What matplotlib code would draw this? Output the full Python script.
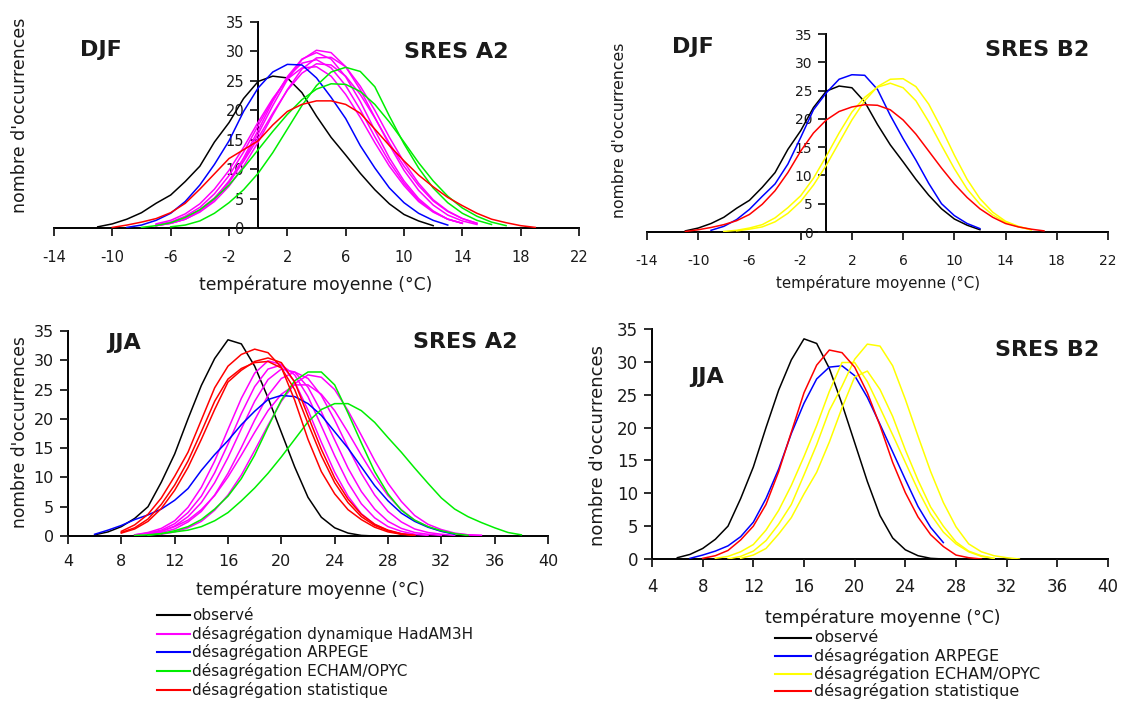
import numpy as np
import matplotlib
matplotlib.use('Agg')
import matplotlib.pyplot as plt
from matplotlib.lines import Line2D

W, H = 1129, 701

# each curve: (first temperature, counts per 1 degC step)
# --- DJF (winter) ---
djf_obs = (-11, [0.2, 0.7, 1.5, 2.6, 4.2, 5.6, 7.9, 10.5, 14.6, 17.9, 22.0, 24.9, 25.8,
                 25.5, 23.0, 19.0, 15.4, 12.4, 9.3, 6.5, 4.1, 2.3, 1.2, 0.4])

djf_a2_arpege = (-9, [0.1, 0.5, 1.3, 2.5, 4.5, 7.3, 10.8, 14.8, 19.8, 23.8, 26.5, 27.8, 27.7,
                      25.5, 22.2, 18.6, 14.0, 10.2, 6.8, 4.3, 2.5, 1.3, 0.5])
djf_a2_hadam = [
    (-7, [0.4, 0.8, 1.5, 2.8, 4.8, 7.7, 11.5, 16.0, 20.8, 25.2, 28.6, 30.2, 29.8, 27.4,
          23.5, 18.8, 14.1, 9.8, 6.4, 3.9, 2.2, 1.2, 0.6]),
    (-7, [0.4, 0.8, 1.5, 2.9, 5.0, 8.0, 11.9, 16.6, 21.5, 25.7, 28.7, 29.8, 28.7, 25.7,
          21.5, 16.6, 11.9, 8.0, 5.0, 2.9, 1.5, 0.8]),
    (-7, [0.4, 0.8, 1.5, 2.7, 4.5, 7.1, 10.5, 14.6, 19.2, 23.5, 27.0, 28.9, 29.0, 27.4,
          24.1, 20.0, 15.4, 11.2, 7.6, 4.8, 2.9, 1.6, 0.8]),
    (-7, [0.5, 1.0, 2.0, 3.5, 5.8, 8.9, 12.9, 17.4, 21.8, 25.6, 28.0, 28.6, 27.2, 24.2,
          20.1, 15.5, 11.2, 7.6, 4.7, 2.8, 1.5, 0.8]),
    (-7, [0.5, 1.0, 1.8, 3.1, 5.1, 7.8, 11.3, 15.3, 19.5, 23.4, 26.3, 27.9, 27.7, 25.8,
          22.7, 18.7, 14.4, 10.5, 7.2, 4.6, 2.8, 1.6, 0.8]),
    (-7, [0.7, 1.3, 2.4, 4.1, 6.6, 9.8, 13.7, 18.0, 22.0, 25.3, 27.2, 27.4, 25.8, 22.7,
          18.8, 14.5, 10.5, 7.2, 4.5, 2.7, 1.5, 0.8]),
]
djf_a2_echam = [
    (-6, [0.2, 0.5, 1.2, 2.5, 4.3, 6.5, 9.3, 12.8, 16.8, 20.8, 24.2, 26.5, 27.3, 26.6,
          24.0, 19.0, 14.3, 10.2, 6.8, 4.3, 2.5, 1.3, 0.6]),
    (-8, [0.1, 0.4, 0.9, 1.8, 3.1, 5.0, 7.3, 10.2, 13.3, 16.4, 19.3, 21.8, 23.6, 24.5,
          24.4, 23.2, 21.0, 18.0, 14.6, 11.1, 8.0, 5.4, 3.4, 2.0, 1.0, 0.4]),
]
djf_a2_stat = (-10, [0.1, 0.5, 1.0, 1.6, 2.6, 4.2, 6.6, 9.2, 11.8, 13.3, 14.8, 17.5, 19.8,
                     21.0, 21.6, 21.6, 21.0, 19.5, 16.8, 14.0, 11.4, 9.0, 7.0, 5.2, 3.8,
                     2.5, 1.5, 0.9, 0.4, 0.1])

djf_b2_arpege = (-9, [0.3, 1.0, 2.2, 4.0, 6.3, 8.5, 12.0, 16.7, 21.6, 24.6, 27.0, 27.8,
                      27.7, 25.2, 20.6, 16.5, 12.7, 8.6, 5.0, 2.9, 1.5, 0.6])
djf_b2_echam = [
    (-7, [0.2, 0.5, 0.9, 1.8, 3.3, 5.4, 8.3, 11.8, 15.8, 19.8, 23.2, 25.7, 27.0, 27.1,
          25.7, 22.6, 18.3, 13.6, 9.3, 5.9, 3.5, 1.9, 1.0, 0.4]),
    (-8, [0.1, 0.3, 0.7, 1.3, 2.5, 4.3, 6.4, 9.5, 13.4, 17.5, 21.2, 23.8, 25.6, 26.3,
          25.5, 23.2, 19.5, 15.3, 11.2, 7.6, 4.9, 3.0, 1.7, 0.9, 0.4]),
]
djf_b2_stat = (-11, [0.1, 0.4, 0.8, 1.3, 2.0, 3.1, 4.9, 7.3, 10.5, 14.3, 17.5, 19.8, 21.3,
                     22.1, 22.5, 22.4, 21.6, 19.8, 17.3, 14.3, 11.3, 8.5, 6.1, 4.1, 2.6,
                     1.5, 0.9, 0.5, 0.2])

# --- JJA (summer) ---
jja_obs = (6, [0.2, 0.7, 1.6, 3.0, 5.0, 9.2, 14.0, 20.0, 25.7, 30.3, 33.5, 32.8, 29.0,
               23.6, 17.7, 11.8, 6.6, 3.2, 1.4, 0.5, 0.1, 0.0])

jja_a2_arpege = (6, [0.3, 1.0, 1.8, 2.8, 3.6, 4.6, 6.1, 8.1, 11.2, 13.9, 16.3, 19.0, 21.3,
                     23.3, 24.0, 23.8, 22.6, 20.6, 17.8, 15.0, 11.8, 8.6, 6.0, 3.9, 2.5,
                     1.5, 0.8, 0.3])
jja_a2_hadam = [
    (9, [0.2, 0.6, 1.3, 2.6, 4.9, 8.3, 12.8, 18.2, 23.5, 27.8, 29.9, 29.3, 26.3, 21.5,
         16.0, 10.9, 6.8, 3.8, 2.0, 0.9, 0.4, 0.2]),
    (9, [0.2, 0.5, 1.0, 2.1, 4.0, 6.8, 10.8, 15.7, 20.9, 25.5, 28.5, 29.2, 27.5, 23.8,
         18.8, 13.7, 9.1, 5.5, 3.1, 1.6, 0.8, 0.3, 0.1]),
    (10, [0.4, 0.8, 1.7, 3.3, 5.7, 9.1, 13.4, 18.3, 23.0, 26.7, 28.5, 28.0, 25.4, 21.2,
          16.4, 11.6, 7.6, 4.6, 2.5, 1.3, 0.6, 0.3, 0.1]),
    (10, [0.3, 0.6, 1.2, 2.4, 4.2, 7.0, 10.7, 15.1, 19.8, 24.0, 26.9, 28.0, 26.9, 24.0,
          19.8, 15.1, 10.7, 7.0, 4.2, 2.4, 1.2, 0.6, 0.3, 0.1]),
    (11, [0.3, 0.7, 1.4, 2.5, 4.4, 7.0, 10.4, 14.6, 18.9, 23.0, 26.0, 27.5, 27.1, 25.0,
          21.4, 17.2, 12.9, 9.0, 5.9, 3.5, 2.0, 1.1, 0.5, 0.2, 0.1]),
    (10, [0.4, 0.8, 1.6, 2.7, 4.5, 6.9, 10.1, 13.8, 17.7, 21.4, 24.2, 25.8, 25.8, 24.2,
          21.4, 17.7, 13.8, 10.1, 6.9, 4.5, 2.7, 1.6, 0.8, 0.4, 0.2, 0.1]),
]
jja_a2_echam = [
    (10, [0.1, 0.4, 0.9, 1.6, 2.8, 4.6, 6.8, 9.8, 13.8, 18.6, 23.2, 26.5, 28.0, 28.0,
          25.8, 21.0, 15.9, 11.0, 7.2, 4.4, 2.7, 1.6, 0.9, 0.4, 0.1]),
    (9, [0.1, 0.2, 0.4, 0.7, 1.0, 1.6, 2.6, 4.0, 6.0, 8.2, 10.7, 13.5, 16.5, 19.5, 21.6,
         22.6, 22.6, 21.4, 19.4, 16.8, 14.3, 11.6, 9.0, 6.5, 4.6, 3.3, 2.3, 1.4, 0.6, 0.2]),
]
jja_a2_stat = [
    (8, [0.8, 1.9, 3.7, 6.5, 10.2, 14.3, 19.8, 25.3, 29.0, 31.0, 31.9, 31.3, 28.8, 23.2,
         16.5, 11.0, 7.2, 4.5, 2.8, 1.5, 0.7, 0.3, 0.1]),
    (8, [0.5, 1.2, 2.5, 4.7, 7.8, 11.7, 16.5, 21.6, 26.3, 28.3, 29.8, 30.4, 29.6, 26.3,
         20.5, 14.8, 9.9, 6.3, 3.7, 2.0, 1.0, 0.4, 0.1]),
    (8, [0.6, 1.4, 2.9, 5.4, 8.7, 12.8, 17.8, 23.0, 26.8, 28.6, 29.6, 29.8, 28.7, 25.0,
         19.2, 13.7, 9.1, 5.7, 3.3, 1.8, 0.9, 0.3]),
]

jja_b2_arpege = (7, [0.1, 0.6, 1.2, 2.0, 3.4, 5.6, 9.2, 13.7, 19.1, 23.7, 27.4, 29.2, 29.4,
                     27.9, 24.6, 20.5, 16.3, 12.1, 8.0, 4.8, 2.5])
jja_b2_echam = [
    (10, [0.0, 0.4, 1.2, 2.8, 5.3, 8.3, 12.8, 17.4, 22.6, 26.3, 30.4, 32.7, 32.4, 29.4,
          24.3, 18.7, 13.3, 8.6, 4.9, 2.3, 1.1, 0.5, 0.2, 0.0]),
    (9, [0.1, 0.4, 1.1, 2.2, 4.4, 7.4, 11.2, 15.6, 20.3, 25.5, 29.9, 29.9, 27.0, 23.0,
         18.9, 14.7, 10.5, 6.8, 4.1, 2.3, 1.1, 0.4, 0.1]),
    (11, [0.1, 0.6, 1.6, 3.8, 6.3, 9.9, 13.2, 17.8, 23.0, 27.7, 28.6, 25.8, 21.7, 16.6,
          12.0, 7.9, 5.0, 2.6, 1.2, 0.5, 0.1]),
]
jja_b2_stat = (8, [0.1, 0.5, 1.3, 2.9, 5.0, 8.3, 13.3, 19.3, 25.3, 29.5, 31.8, 31.4, 29.2,
                   25.3, 20.3, 14.7, 10.1, 6.4, 3.7, 1.9, 0.6, 0.2, 0.0])

djf_ticks = list(range(-14, 23, 4))
jja_ticks = list(range(4, 41, 4))
y_ticks = list(range(0, 36, 5))

legend_a2 = ['observé', 'désagrégation dynamique HadAM3H', 'désagrégation ARPEGE',
             'désagrégation ECHAM/OPYC', 'désagrégation statistique']
legend_b2 = ['observé', 'désagrégation ARPEGE', 'désagrégation ECHAM/OPYC',
             'désagrégation statistique']

BLACK, MAGENTA, BLUE, GREEN, RED, YELLOW = '#000000', '#ff00ff', '#0000ff', '#00ee00', '#ff0000', '#ffff00'
TXT = '#1a1a1a'

plt.rcParams['font.family'] = ['DejaVu Sans']
plt.rcParams['axes.unicode_minus'] = False
fig = plt.figure(figsize=(W / 100, H / 100), dpi=100)


def fx(x, y):
    return x / W, 1 - y / H


def make_axes(left, top, right, bottom):
    return fig.add_axes([left / W, 1 - bottom / H, (right - left) / W, (bottom - top) / H])


def draw(ax, curve, color):
    start, vals = curve
    ax.plot(start + np.arange(len(vals)), vals, color=color, lw=1.1)


def style(ax, xlim, xticks, yspine, fs, xpad):
    ax.set_xlim(*xlim)
    ax.set_ylim(0, 35)
    ax.set_xticks(xticks)
    ax.set_yticks(y_ticks)
    ax.patch.set_alpha(0)
    for s in ['top', 'right']:
        ax.spines[s].set_visible(False)
    ax.spines['left'].set_position(('data', yspine))
    for s in ['left', 'bottom']:
        ax.spines[s].set_linewidth(1.4)
        ax.spines[s].set_zorder(1)
    ax.tick_params(direction='out', length=6, width=1.3, labelsize=fs, colors=TXT)
    ax.tick_params(axis='x', pad=xpad)
    ax.tick_params(axis='y', pad=4)


# panel 1: DJF A2
ax1 = make_axes(54, 22, 579, 228)
draw(ax1, djf_obs, BLACK)
for c in djf_a2_hadam:
    draw(ax1, c, MAGENTA)
draw(ax1, djf_a2_arpege, BLUE)
for c in djf_a2_echam:
    draw(ax1, c, GREEN)
draw(ax1, djf_a2_stat, RED)
style(ax1, (-14, 22), djf_ticks, 0, 10.5, 10)

# panel 2: DJF B2
ax2 = make_axes(647, 34, 1108, 232)
draw(ax2, djf_obs, BLACK)
draw(ax2, djf_b2_arpege, BLUE)
for c in djf_b2_echam:
    draw(ax2, c, YELLOW)
draw(ax2, djf_b2_stat, RED)
style(ax2, (-14, 22), djf_ticks, 0, 10, 10)

# panel 3: JJA A2
ax3 = make_axes(68, 331, 548, 536)
draw(ax3, jja_obs, BLACK)
for c in jja_a2_hadam:
    draw(ax3, c, MAGENTA)
draw(ax3, jja_a2_arpege, BLUE)
for c in jja_a2_echam:
    draw(ax3, c, GREEN)
for c in jja_a2_stat:
    draw(ax3, c, RED)
style(ax3, (4, 40), jja_ticks, 4, 11.5, 7)

# panel 4: JJA B2
ax4 = make_axes(652, 329, 1108, 559)
draw(ax4, jja_obs, BLACK)
draw(ax4, jja_b2_arpege, BLUE)
for c in jja_b2_echam:
    draw(ax4, c, YELLOW)
draw(ax4, jja_b2_stat, RED)
style(ax4, (4, 40), jja_ticks, 4, 12, 8)

# titles inside panels
bold = dict(fontsize=16, fontweight='bold', color=TXT, va='center')
fig.text(*fx(80, 50), 'DJF', **bold)
fig.text(*fx(404, 52), 'SRES A2', **bold)
fig.text(*fx(672, 47), 'DJF', **bold)
fig.text(*fx(985, 50), 'SRES B2', **bold)
fig.text(*fx(107, 343), 'JJA', **bold)
fig.text(*fx(413, 342), 'SRES A2', **bold)
fig.text(*fx(690, 377), 'JJA', **bold)
fig.text(*fx(995, 350), 'SRES B2', **bold)

# axis labels
xl = 'température moyenne (°C)'
yl = "nombre d'occurrences"
fig.text(*fx(316, 285), xl, fontsize=12.3, color=TXT, ha='center', va='center')
fig.text(*fx(878, 283), xl, fontsize=10.8, color=TXT, ha='center', va='center')
fig.text(*fx(310, 590), xl, fontsize=12.2, color=TXT, ha='center', va='center')
fig.text(*fx(883, 618), xl, fontsize=12.4, color=TXT, ha='center', va='center')
fig.text(*fx(20, 115), yl, fontsize=12.5, color=TXT, rotation=90, ha='center', va='center')
fig.text(*fx(620, 130), yl, fontsize=11.3, color=TXT, rotation=90, ha='center', va='center')
fig.text(*fx(20, 432), yl, fontsize=12.3, color=TXT, rotation=90, ha='center', va='center')
fig.text(*fx(598, 445), yl, fontsize=13, color=TXT, rotation=90, ha='center', va='center')

# legends
for i, (lab, col) in enumerate(zip(legend_a2, [BLACK, MAGENTA, BLUE, GREEN, RED])):
    y = 615 + i * 18.7
    x0, y0 = fx(157, y)
    x1, _ = fx(190, y)
    fig.add_artist(Line2D([x0, x1], [y0, y0], transform=fig.transFigure, color=col, lw=1.5))
    fig.text(*fx(192, y), lab, fontsize=11, color=TXT, va='center')

for i, (lab, col) in enumerate(zip(legend_b2, [BLACK, BLUE, YELLOW, RED])):
    y = 638 + i * 17.8
    x0, y0 = fx(775, y)
    x1, _ = fx(811, y)
    fig.add_artist(Line2D([x0, x1], [y0, y0], transform=fig.transFigure, color=col, lw=1.5))
    fig.text(*fx(814, y), lab, fontsize=11.5, color=TXT, va='center')

fig.savefig('out.png', dpi=100)
